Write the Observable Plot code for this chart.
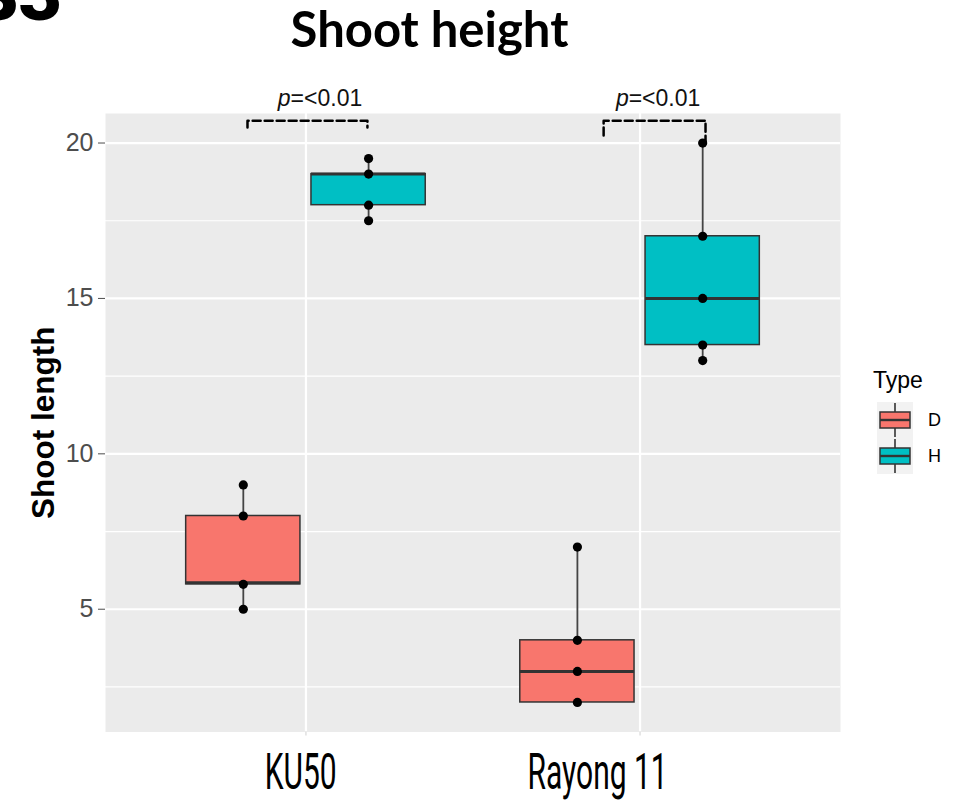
<!DOCTYPE html>
<html>
<head>
<meta charset="utf-8">
<script src="https://cdn.jsdelivr.net/npm/d3@7"></script>
<script src="https://cdn.jsdelivr.net/npm/@observablehq/plot@0.6"></script>
<style>
  body { margin: 0; background: #ffffff; }
  #wrap { position: relative; width: 971px; height: 801px; overflow: hidden; }
  #overlay { position: absolute; left: 0; top: 0; pointer-events: none; }
</style>
</head>
<body>
<div id="wrap"></div>
<script>
// ---------- data ----------
const cultivars = ["KU50", "Rayong 11"];
const cultivarLabelX = [0.984, 1.873];   // where the cultivar names sit (category units)
const types = ["D", "H"];
const typeColors = ["#F8766D", "#00BFC4"];

// box summaries
const boxCultivar = ["KU50", "KU50", "Rayong 11", "Rayong 11"];
const boxType     = ["D", "H", "D", "H"];
const boxLow      = [5, 17.5, 2, 13];
const boxQ1       = [5.8, 18, 2, 13.5];
const boxMedian   = [5.85, 19, 3, 15];
const boxQ3       = [8, 19, 4, 17];
const boxHigh     = [9, 19.5, 7, 20];

// individual observations per group
const ku50D   = [5, 5.8, 8, 9];
const ku50H   = [17.5, 18, 19, 19.5];
const rayongD = [2, 3, 4, 7];
const rayongH = [13, 13.5, 15, 17, 20];
const groupValues = [ku50D, ku50H, rayongD, rayongH];

// axis ticks
const yTicks = [5, 10, 15, 20];
const yMinorTicks = [2.5, 7.5, 12.5, 17.5];

// significance brackets (x in category units, y in data units)
const pValues         = ["<0.01", "<0.01"];
const bracketStart    = [0.825, 1.891];
const bracketEnd      = [1.184, 2.196];
const bracketTop      = [20.72, 20.72];
const bracketLegStart = [20.5, 20.24];
const bracketLegEnd   = [20.5, 20.05];
const pLabelX         = [0.954, 1.966];
const pLabelY         = [21.2, 21.2];

// ---------- derived tables ----------
const dodge = 0.1875, halfWidth = 0.171;
const groups = boxType.map((t, i) => ({
  cultivar: boxCultivar[i], type: t,
  lo: boxLow[i], q1: boxQ1[i], med: boxMedian[i], q3: boxQ3[i], hi: boxHigh[i]
}));
const center = d => cultivars.indexOf(d.cultivar) + 1 + (d.type === "D" ? -dodge : dodge);
const obs = groups.flatMap((g, i) => groupValues[i].map(v => ({cultivar: g.cultivar, type: g.type, value: v})));
const brackets = bracketStart.flatMap((x1, i) => [
  {id: i, x: x1, y: bracketLegStart[i]},
  {id: i, x: x1, y: bracketTop[i]},
  {id: i, x: bracketEnd[i], y: bracketTop[i]},
  {id: i, x: bracketEnd[i], y: bracketLegEnd[i]}
]);
const pLabels = pValues.map((v, i) => ({x: pLabelX[i], y: pLabelY[i], text: "=" + v}));
const cultivarLabels = cultivars.map((c, i) => ({x: cultivarLabelX[i], text: c}));

// ---------- chart ----------
const chart = Plot.plot({
  width: 971,
  height: 801,
  marginLeft: 105,
  marginRight: 131,
  marginTop: 113,
  marginBottom: 69.5,
  style: {fontFamily: "'Liberation Sans', Arial, sans-serif", background: "transparent", overflow: "visible"},
  x: {type: "linear", domain: [0.4, 2.6]},
  y: {domain: [1.05, 20.95]},
  color: {domain: types, range: typeColors},
  marks: [
    Plot.frame({fill: "#EBEBEB", stroke: "none"}),
    Plot.ruleY(yMinorTicks, {stroke: "#ffffff", strokeWidth: 1.2}),
    Plot.ruleY(yTicks, {stroke: "#ffffff", strokeWidth: 2.2}),
    Plot.ruleX([1, 2], {stroke: "#ffffff", strokeWidth: 2.2}),
    Plot.ruleX(groups, {x: center, y1: "lo", y2: "q1", stroke: "#444444", strokeWidth: 1.8}),
    Plot.ruleX(groups, {x: center, y1: "q3", y2: "hi", stroke: "#444444", strokeWidth: 1.8}),
    Plot.rect(groups, {x1: d => center(d) - halfWidth, x2: d => center(d) + halfWidth, y1: "q1", y2: "q3",
      fill: "type", stroke: "#333333", strokeWidth: 1.5}),
    Plot.ruleY(groups, {y: "med", x1: d => center(d) - halfWidth, x2: d => center(d) + halfWidth,
      stroke: "#333333", strokeWidth: 3}),
    Plot.dot(obs, {x: center, y: "value", r: 4.6, fill: "#000000", stroke: "none"}),
    Plot.line(brackets, {x: "x", y: "y", z: "id", stroke: "#000000", strokeWidth: 2.5, strokeDasharray: "8,4"}),
    Plot.text(pLabels, {x: "x", y: "y", text: () => "p", textAnchor: "end", lineAnchor: "bottom",
      fontStyle: "italic", fontSize: 23, fill: "#111111"}),
    Plot.text(pLabels, {x: "x", y: "y", text: "text", textAnchor: "start", lineAnchor: "bottom",
      fontSize: 23, fill: "#111111"}),
    Plot.text(["Shoot length"], {frameAnchor: "left", textAnchor: "middle", dx: -62, rotate: -90,
      fontSize: 31.5, fontWeight: "bold", fill: "#000000"}),
    Plot.axisY({ticks: yTicks, tickSize: 7, tickPadding: 5, fontSize: 25, color: "#4D4D4D", label: null}),
    Plot.axisX({ticks: [1, 2], tickFormat: () => "", tickSize: 4, color: "#d0d0d0", label: null}),
    Plot.text(cultivarLabels, {x: "x", text: "text", frameAnchor: "bottom", lineAnchor: "top", dy: 21.5,
      fontSize: 50, fontWeight: 400, fontFamily: "Roboto, 'Liberation Sans', sans-serif", fill: "#000000"})
  ]
});

document.getElementById("wrap").appendChild(chart);

// condensed look for the cultivar names
chart.querySelectorAll("text").forEach(t => {
  if (!cultivars.includes(t.textContent)) return;
  const x = +t.getAttribute("x") || 0;
  const tr = t.getAttribute("transform") || "";
  t.setAttribute("transform", `${tr} translate(${x},0) scale(0.6,1) translate(${-x},0)`);
});

// ---------- overlay: title, corner label, legend ----------
const overlay = d3.select("#wrap").append("svg")
  .attr("id", "overlay").attr("width", 971).attr("height", 801);

overlay.append("text")
  .attr("x", 62).attr("y", 20).attr("text-anchor", "end")
  .attr("font-family", "Roboto, 'Liberation Sans', sans-serif").attr("font-weight", 900)
  .attr("font-size", 75).attr("fill", "#000").text("S3");

overlay.append("text")
  .attr("x", 429.5).attr("y", 47).attr("text-anchor", "middle")
  .attr("font-family", "Lato, 'Open Sans', sans-serif").attr("font-weight", "bold")
  .attr("font-size", 49).attr("fill", "#000").text("Shoot height");

const legend = overlay.append("g").attr("transform", "translate(873,0)");
legend.append("text").attr("x", 0).attr("y", 388)
  .attr("font-family", "'Liberation Sans', Arial, sans-serif").attr("font-size", 23)
  .attr("fill", "#000").text("Type");
types.forEach((t, i) => {
  const top = 402 + i * 36;
  const g = legend.append("g").attr("transform", `translate(4,${top})`);
  g.append("rect").attr("width", 36).attr("height", 36).attr("fill", "#F2F2F2");
  g.append("line").attr("x1", 18).attr("x2", 18).attr("y1", 1).attr("y2", 35)
    .attr("stroke", "#333").attr("stroke-width", 1.6);
  g.append("rect").attr("x", 3).attr("y", 10).attr("width", 30).attr("height", 16)
    .attr("fill", typeColors[i]).attr("stroke", "#333").attr("stroke-width", 1.5);
  g.append("line").attr("x1", 3).attr("x2", 33).attr("y1", 18).attr("y2", 18)
    .attr("stroke", "#333").attr("stroke-width", 2.4);
  legend.append("text").attr("x", 55).attr("y", top + 18).attr("dy", "0.35em")
    .attr("font-family", "'Liberation Sans', Arial, sans-serif").attr("font-size", 18)
    .attr("fill", "#000").text(t);
});
</script>
</body>
</html>
